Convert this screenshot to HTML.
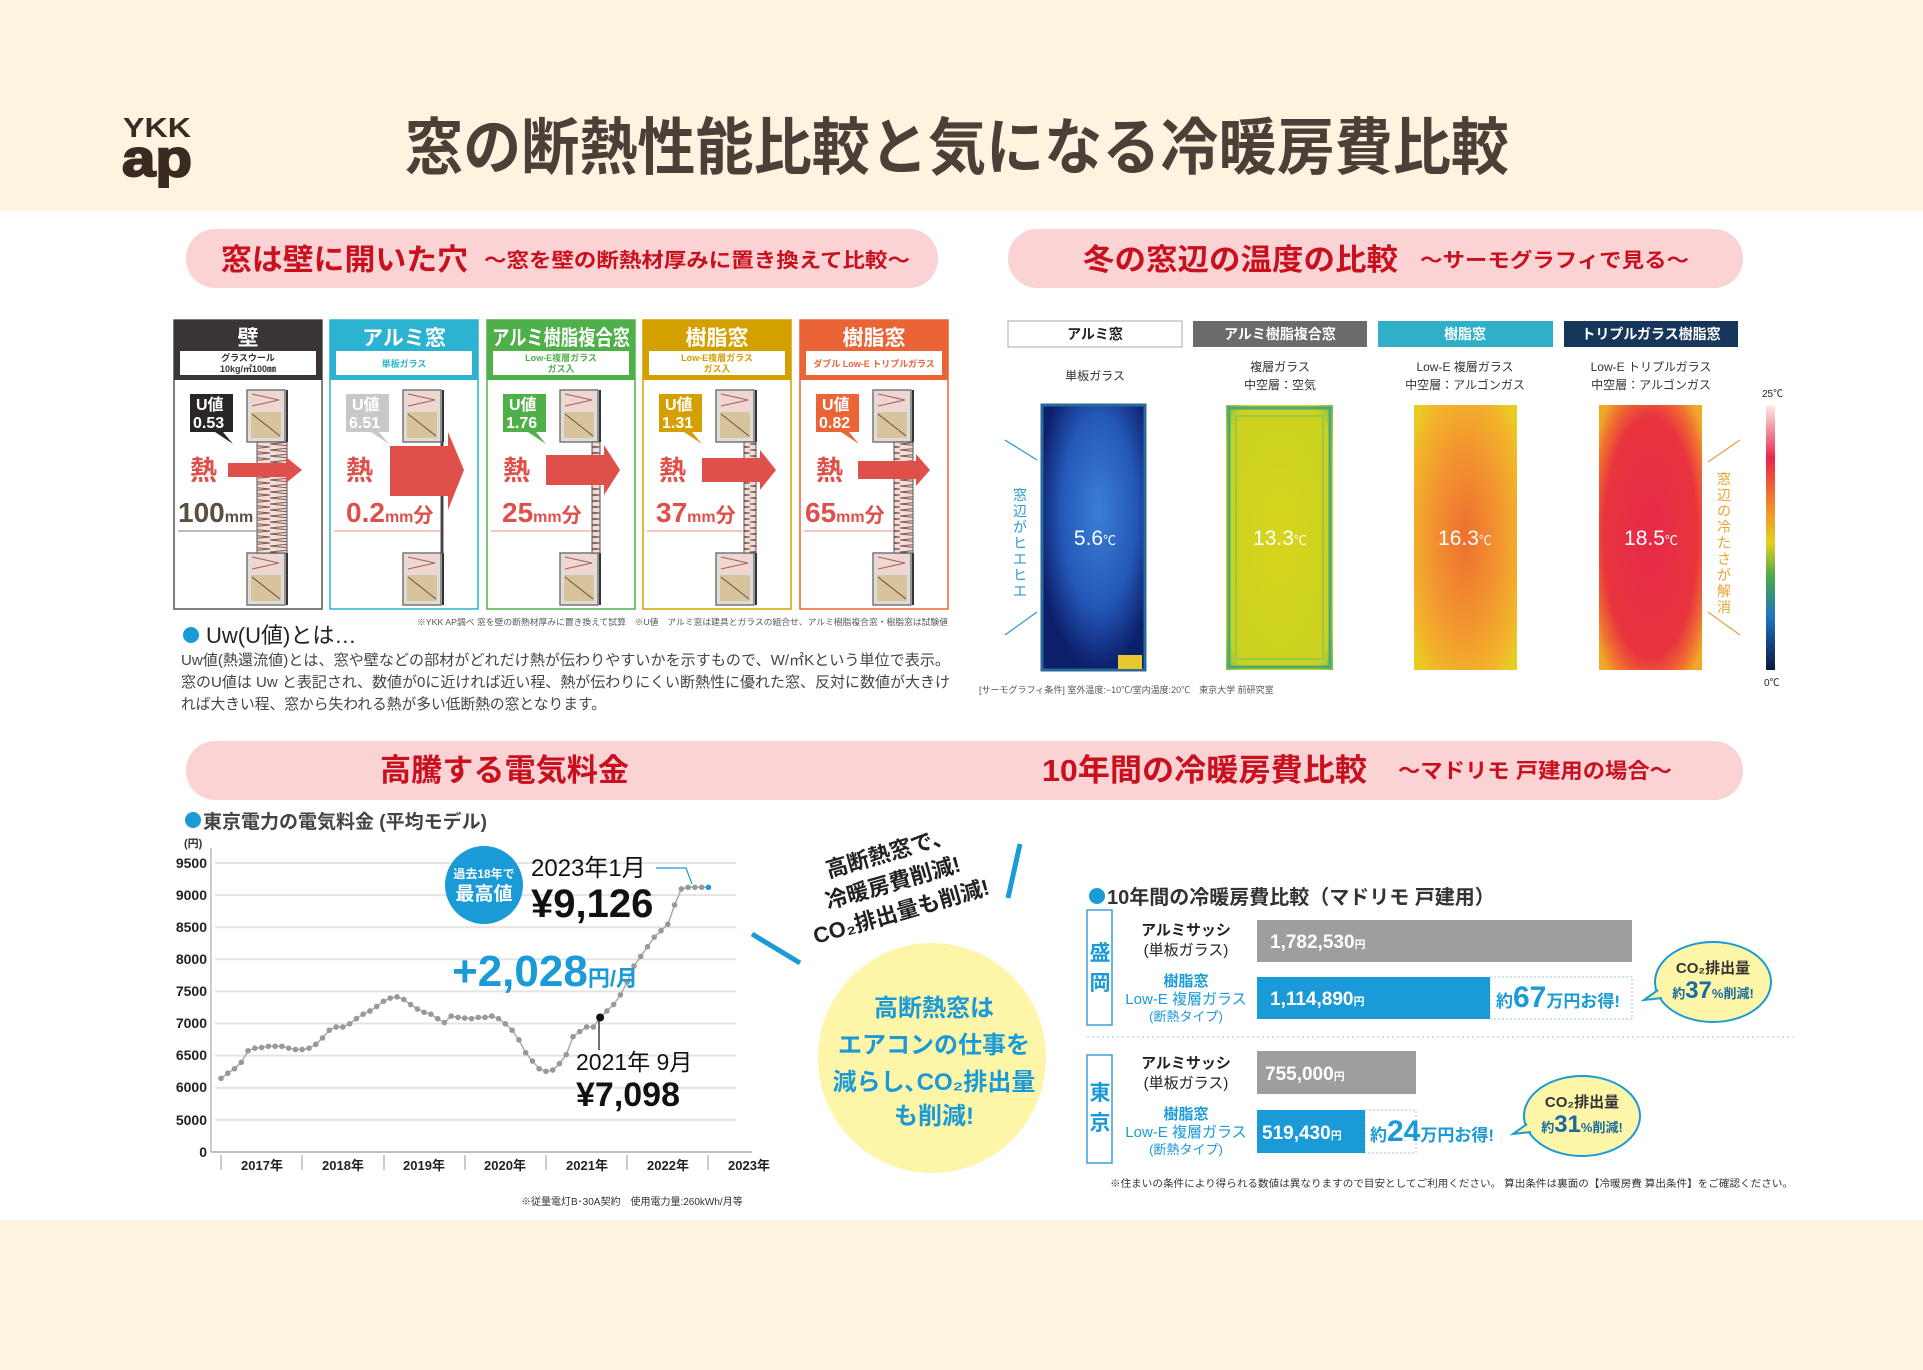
<!DOCTYPE html>
<html><head><meta charset="utf-8"><style>
html,body{margin:0;padding:0;background:#fff}
svg{display:block}
text{font-family:"Liberation Sans","Noto Sans CJK JP",sans-serif}
.b{font-weight:bold}
</style></head><body>
<svg id="s" width="1923" height="1370" viewBox="0 0 1923 1370" xmlns="http://www.w3.org/2000/svg">
<defs>
<radialGradient id="g1" cx="0.55" cy="0.4" r="0.6"><stop offset="0" stop-color="#3a7fd8"/><stop offset="0.6" stop-color="#2458b8"/><stop offset="1" stop-color="#0c1f6a"/></radialGradient>
<radialGradient id="g2" cx="0.5" cy="0.5" r="0.7"><stop offset="0" stop-color="#d6d41c"/><stop offset="0.85" stop-color="#cad220"/><stop offset="1" stop-color="#7cc050"/></radialGradient>
<radialGradient id="g3" cx="0.5" cy="0.5" r="0.65"><stop offset="0" stop-color="#ee7030"/><stop offset="0.5" stop-color="#f29430"/><stop offset="0.85" stop-color="#f2b42a"/><stop offset="1" stop-color="#e8cc24"/></radialGradient>
<radialGradient id="g4" cx="0.5" cy="0.5" r="0.65"><stop offset="0" stop-color="#e62a48"/><stop offset="0.7" stop-color="#e8343e"/><stop offset="0.88" stop-color="#f07030"/><stop offset="1" stop-color="#f0a828"/></radialGradient>
<linearGradient id="cb" x1="0" y1="0" x2="0" y2="1"><stop offset="0" stop-color="#fbeee8"/><stop offset="0.2" stop-color="#e8254a"/><stop offset="0.38" stop-color="#f08a2a"/><stop offset="0.52" stop-color="#e4d020"/><stop offset="0.65" stop-color="#4aa848"/><stop offset="0.8" stop-color="#1e74c0"/><stop offset="1" stop-color="#0c1840"/></linearGradient>
<pattern id="zz" width="30" height="6" patternUnits="userSpaceOnUse"><rect width="30" height="6" fill="#f3dcd6"/><path d="M0 0L30 3L0 6" stroke="#7a5a55" stroke-width="1" fill="none"/></pattern>
<g id="blk"><rect x="0" y="0" width="38" height="52" fill="#e0ddd8" stroke="#777" stroke-width="1.5"/><rect x="4" y="2" width="30" height="18" fill="#f4d4d0"/><path d="M5 4L32 10L5 16" stroke="#8a6a60" fill="none"/><rect x="4" y="22" width="30" height="26" fill="#d8c49c"/><path d="M5 24L33 46" stroke="#6a5040"/><line x1="40" y1="0" x2="40" y2="52" stroke="#333" stroke-width="2"/></g>
</defs>
<rect width="1923" height="211" fill="#fdf3df"/>
<rect y="1220" width="1923" height="150" fill="#fdf3df"/>
<text x="123" y="137" font-size="28" class="b" fill="#3a2a22" textLength="68" lengthAdjust="spacingAndGlyphs">YKK</text>
<text x="122" y="176" font-size="52" class="b" fill="#3a2a22" stroke="#3a2a22" stroke-width="2" textLength="70" lengthAdjust="spacingAndGlyphs">ap</text>
<text x="405" y="169" font-size="62" class="b" fill="#4a4038" textLength="1104" lengthAdjust="spacingAndGlyphs">窓の断熱性能比較と気になる冷暖房費比較</text>
<rect x="186" y="229" width="752" height="59" rx="29" fill="#fcd3d4"/>
<rect x="1008" y="229" width="735" height="59" rx="29" fill="#fcd3d4"/>
<rect x="186" y="741" width="1557" height="59" rx="29" fill="#fcd3d4"/>
<text x="221" y="270" font-size="30" class="b" fill="#c8101e" textLength="247" lengthAdjust="spacingAndGlyphs">窓は壁に開いた穴</text>
<text x="484" y="267" font-size="20" class="b" fill="#c8101e" textLength="426" lengthAdjust="spacingAndGlyphs">～窓を壁の断熱材厚みに置き換えて比較～</text>
<text x="1083" y="270" font-size="30" class="b" fill="#c8101e" textLength="315" lengthAdjust="spacingAndGlyphs">冬の窓辺の温度の比較</text>
<text x="1420" y="267" font-size="20" class="b" fill="#c8101e" textLength="269" lengthAdjust="spacingAndGlyphs">～サーモグラフィで見る～</text>
<text x="380" y="781" font-size="31" class="b" fill="#c8101e" textLength="249" lengthAdjust="spacingAndGlyphs">高騰する電気料金</text>
<text x="1042" y="781" font-size="31" class="b" fill="#c8101e" textLength="325" lengthAdjust="spacingAndGlyphs">10年間の冷暖房費比較</text>
<text x="1398" y="778" font-size="21" class="b" fill="#c8101e" textLength="274" lengthAdjust="spacingAndGlyphs">～マドリモ 戸建用の場合～</text>

<rect x="174" y="320" width="148" height="289" fill="#fff" stroke="#555" stroke-width="1.5"/>
<rect x="330" y="320" width="148" height="289" fill="#fff" stroke="#2bb3d1" stroke-width="1.5"/>
<rect x="487" y="320" width="148" height="289" fill="#fff" stroke="#4fb04a" stroke-width="1.5"/>
<rect x="643" y="320" width="148" height="289" fill="#fff" stroke="#d4a000" stroke-width="1.5"/>
<rect x="800" y="320" width="148" height="289" fill="#fff" stroke="#eb6436" stroke-width="1.5"/>
<rect x="174" y="320" width="148" height="60" fill="#3a3535"/>
<rect x="330" y="320" width="148" height="60" fill="#2bb3d1"/>
<rect x="487" y="320" width="148" height="60" fill="#4fb04a"/>
<rect x="643" y="320" width="148" height="60" fill="#d4a000"/>
<rect x="800" y="320" width="148" height="60" fill="#eb6436"/>
<g fill="#fff"><rect x="180" y="351" width="136" height="24"/><rect x="336" y="351" width="136" height="24"/><rect x="493" y="351" width="136" height="24"/><rect x="649" y="351" width="136" height="24"/><rect x="806" y="351" width="136" height="24"/></g>
<g font-size="21" class="b" fill="#fff" text-anchor="middle">
<text x="248" y="345">壁</text><text x="404" y="345">アルミ窓</text><text x="561" y="345" textLength="138" lengthAdjust="spacingAndGlyphs">アルミ樹脂複合窓</text><text x="717" y="345">樹脂窓</text><text x="874" y="345">樹脂窓</text></g>
<g font-size="9" class="b" text-anchor="middle">
<text x="248" y="361" fill="#333">グラスウール</text><text x="248" y="372" fill="#333">10kg/㎥100㎜</text>
<text x="404" y="367" fill="#2bb3d1">単板ガラス</text>
<text x="561" y="361" fill="#4fb04a">Low-E複層ガラス</text><text x="561" y="372" fill="#4fb04a">ガス入</text>
<text x="717" y="361" fill="#d4a000">Low-E複層ガラス</text><text x="717" y="372" fill="#d4a000">ガス入</text>
<text x="874" y="367" fill="#eb6436">ダブル Low-E トリプルガラス</text></g>
<g id="walls"></g>
<g font-size="16" class="b" fill="#fff">
<path d="M190 394h43v38h-10l10 12-18-12h-25z" fill="#2a2626"/><text x="196" y="410">U値</text><text x="193" y="428">0.53</text>
<path d="M346 394h43v38h-10l10 12-18-12h-25z" fill="#c8c8c8"/><text x="352" y="410">U値</text><text x="349" y="428">6.51</text>
<path d="M503 394h43v38h-10l10 12-18-12h-25z" fill="#4fb04a"/><text x="509" y="410">U値</text><text x="506" y="428">1.76</text>
<path d="M659 394h43v38h-10l10 12-18-12h-25z" fill="#d4a000"/><text x="665" y="410">U値</text><text x="662" y="428">1.31</text>
<path d="M816 394h43v38h-10l10 12-18-12h-25z" fill="#eb6436"/><text x="822" y="410">U値</text><text x="819" y="428">0.82</text></g>
<g fill="#e0504a">
<path d="M228 463h58v-6l16 13-16 13v-6h-58z"/>
<path d="M390 446h58v-14l16 38-16 40v-14h-58z"/>
<path d="M546 455h58v-10l16 25-16 25v-10h-58z"/>
<path d="M702 458h58v-8l16 20-16 20v-8h-58z"/>
<path d="M858 461h58v-7l14 16-14 16v-7h-58z"/></g>
<g font-size="27" class="b" fill="#e0504a">
<text x="190" y="480">熱</text><text x="346" y="480">熱</text><text x="503" y="480">熱</text><text x="659" y="480">熱</text><text x="816" y="480">熱</text></g>
<g class="b">
<text x="178" y="522" font-size="28" fill="#5a5040">100<tspan font-size="16">mm</tspan></text>
<text x="346" y="522" font-size="28" fill="#e0504a">0.2<tspan font-size="16">mm</tspan><tspan font-size="20">分</tspan></text>
<text x="502" y="522" font-size="28" fill="#e0504a">25<tspan font-size="16">mm</tspan><tspan font-size="20">分</tspan></text>
<text x="656" y="522" font-size="28" fill="#e0504a">37<tspan font-size="16">mm</tspan><tspan font-size="20">分</tspan></text>
<text x="805" y="522" font-size="28" fill="#e0504a">65<tspan font-size="16">mm</tspan><tspan font-size="20">分</tspan></text></g>
<text x="417" y="625" font-size="8.5" fill="#555" textLength="531" lengthAdjust="spacingAndGlyphs">※YKK AP調べ 窓を壁の断熱材厚みに置き換えて試算　※U値　アルミ窓は建具とガラスの組合せ、アルミ樹脂複合窓・樹脂窓は試験値</text>
<circle cx="191" cy="635" r="8" fill="#1a9ad6"/>
<text x="206" y="643" font-size="22" fill="#222">Uw(U値)とは…</text>
<g font-size="15" fill="#444">
<text x="181" y="665" textLength="769" lengthAdjust="spacingAndGlyphs">Uw値(熱還流値)とは、窓や壁などの部材がどれだけ熱が伝わりやすいかを示すもので、W/㎡Kという単位で表示。</text>
<text x="181" y="687" textLength="769" lengthAdjust="spacingAndGlyphs">窓のU値は Uw と表記され、数値が0に近ければ近い程、熱が伝わりにくい断熱性に優れた窓、反対に数値が大きけ</text>
<text x="181" y="709" textLength="425" lengthAdjust="spacingAndGlyphs">れば大きい程、窓から失われる熱が多い低断熱の窓となります。</text></g>

<rect x="1008" y="321" width="174" height="26" fill="#fff" stroke="#aaa"/>
<rect x="1193" y="321" width="174" height="26" fill="#6b6b6b"/>
<rect x="1378" y="321" width="175" height="26" fill="#2fb0c8"/>
<rect x="1564" y="321" width="174" height="26" fill="#16375a"/>
<g font-size="14" text-anchor="middle" class="b">
<text x="1095" y="339" fill="#222">アルミ窓</text><text x="1280" y="339" fill="#fff">アルミ樹脂複合窓</text><text x="1465" y="339" fill="#fff">樹脂窓</text><text x="1651" y="339" fill="#fff">トリプルガラス樹脂窓</text></g>
<g font-size="12" text-anchor="middle" fill="#333">
<text x="1095" y="380">単板ガラス</text><text x="1280" y="371">複層ガラス</text><text x="1280" y="389">中空層：空気</text>
<text x="1465" y="371">Low-E 複層ガラス</text><text x="1465" y="389">中空層：アルゴンガス</text>
<text x="1651" y="371">Low-E トリプルガラス</text><text x="1651" y="389">中空層：アルゴンガス</text></g>
<rect x="1042" y="405" width="103" height="265" fill="url(#g1)"/>
<rect x="1042" y="405" width="103" height="265" fill="none" stroke="#2a6a9a" stroke-width="3"/>
<rect x="1118" y="655" width="24" height="14" fill="#e8c830"/>
<rect x="1226" y="405" width="107" height="265" fill="url(#g2)"/>
<rect x="1229" y="408" width="101" height="259" fill="none" stroke="#4aa878" stroke-width="3"/>
<rect x="1236" y="416" width="87" height="243" fill="none" stroke="#9cc848" stroke-width="2"/>
<rect x="1414" y="405" width="103" height="265" fill="url(#g3)"/>
<rect x="1599" y="405" width="103" height="265" fill="url(#g4)"/>
<g font-size="21" fill="#fff" text-anchor="middle">
<text x="1095" y="545">5.6<tspan font-size="13">℃</tspan></text><text x="1280" y="545">13.3<tspan font-size="13">℃</tspan></text><text x="1465" y="545">16.3<tspan font-size="13">℃</tspan></text><text x="1651" y="545">18.5<tspan font-size="13">℃</tspan></text></g>
<g stroke="#2a9ad0" stroke-width="1.2"><line x1="1005" y1="440" x2="1037" y2="460"/><line x1="1005" y1="635" x2="1037" y2="612"/></g>
<g stroke="#e8a040" stroke-width="1.2"><line x1="1740" y1="440" x2="1708" y2="462"/><line x1="1740" y1="635" x2="1708" y2="612"/></g>
<g font-size="14" fill="#2a9ad0" text-anchor="middle"><text x="1020" y="500">窓</text><text x="1020" y="516">辺</text><text x="1020" y="532">が</text><text x="1020" y="548">ヒ</text><text x="1020" y="564">エ</text><text x="1020" y="580">ヒ</text><text x="1020" y="596">エ</text></g>
<g font-size="14" fill="#eca030" text-anchor="middle"><text x="1724" y="484">窓</text><text x="1724" y="500">辺</text><text x="1724" y="516">の</text><text x="1724" y="532">冷</text><text x="1724" y="548">た</text><text x="1724" y="564">さ</text><text x="1724" y="580">が</text><text x="1724" y="596">解</text><text x="1724" y="612">消</text></g>
<rect x="1766" y="405" width="9" height="265" fill="url(#cb)"/>
<text x="1762" y="397" font-size="10" fill="#222">25℃</text>
<text x="1764" y="686" font-size="10" fill="#222">0℃</text>
<text x="979" y="693" font-size="9" fill="#555">[サーモグラフィ条件] 室外温度:−10℃/室内温度:20℃　東京大学 前研究室</text>

<circle cx="193" cy="820" r="8" fill="#1a9ad6"/>
<text x="203" y="828" font-size="19" class="b" fill="#444">東京電力の電気料金 (平均モデル)</text>
<text x="184" y="847" font-size="11" class="b" fill="#333">(円)</text>
<g id="grid" stroke="#e4e4e4" stroke-width="2"></g>
<line x1="211" y1="848" x2="211" y2="1152" stroke="#bbb" stroke-width="1.5"/>
<line x1="211" y1="1152" x2="752" y2="1152" stroke="#aaa" stroke-width="1.5"/>
<g font-size="14" fill="#222" text-anchor="end" class="b">
<text x="207" y="868">9500</text><text x="207" y="900">9000</text><text x="207" y="932">8500</text><text x="207" y="964">8000</text><text x="207" y="996">7500</text><text x="207" y="1028">7000</text><text x="207" y="1060">6500</text><text x="207" y="1092">6000</text><text x="207" y="1125">5000</text><text x="207" y="1157">0</text></g>
<g stroke="#999" stroke-width="1"><line x1="221" y1="1155" x2="221" y2="1170"/><line x1="302" y1="1155" x2="302" y2="1170"/><line x1="384" y1="1155" x2="384" y2="1170"/><line x1="465" y1="1155" x2="465" y2="1170"/><line x1="546" y1="1155" x2="546" y2="1170"/><line x1="627" y1="1155" x2="627" y2="1170"/><line x1="708" y1="1155" x2="708" y2="1170"/></g>
<g font-size="13" fill="#222" text-anchor="middle" class="b"><text x="262" y="1170">2017年</text><text x="343" y="1170">2018年</text><text x="424" y="1170">2019年</text><text x="505" y="1170">2020年</text><text x="587" y="1170">2021年</text><text x="668" y="1170">2022年</text><text x="749" y="1170">2023年</text></g>
<g id="data"></g>
<circle cx="484" cy="885" r="39" fill="#1a9ad6"/>
<text x="484" y="878" font-size="12" class="b" fill="#fff" text-anchor="middle">過去18年で</text>
<text x="484" y="900" font-size="19" class="b" fill="#fff" text-anchor="middle">最高値</text>
<text x="531" y="876" font-size="24" fill="#111">2023年1月</text>
<text x="531" y="917" font-size="40" class="b" fill="#111">¥9,126</text>
<path d="M656 868h30l6 16" stroke="#1a9ad6" fill="none" stroke-width="1.2"/>
<text x="452" y="986" font-size="44" class="b" fill="#1a9ad6">+2,028<tspan font-size="22">円/月</tspan></text>
<line x1="599" y1="1020" x2="599" y2="1050" stroke="#111" stroke-width="1.2"/>
<text x="576" y="1070" font-size="23" fill="#111">2021年 9月</text>
<text x="576" y="1106" font-size="34" class="b" fill="#111">¥7,098</text>
<text x="521" y="1205" font-size="10" fill="#333">※従量電灯B･30A契約　使用電力量:260kWh/月等</text>

<g transform="rotate(-16 895 890)" font-size="22" class="b" fill="#222" text-anchor="middle">
<text x="900" y="860">高断熱窓で、</text><text x="895" y="890">冷暖房費削減!</text><text x="895" y="920">CO₂排出量も削減!</text></g>
<line x1="752" y1="934" x2="800" y2="963" stroke="#1a9ad6" stroke-width="5"/>
<line x1="1020" y1="844" x2="1008" y2="898" stroke="#1a9ad6" stroke-width="5"/>
<ellipse cx="932" cy="1058" rx="114" ry="115" fill="#fdf5a8"/>
<g font-size="24" class="b" fill="#1a9ad6" text-anchor="middle">
<text x="934" y="1016">高断熱窓は</text><text x="934" y="1053">エアコンの仕事を</text><text x="934" y="1090">減らし､CO₂排出量</text><text x="934" y="1124">も削減!</text></g>

<circle cx="1097" cy="896" r="8" fill="#1a9ad6"/>
<text x="1107" y="904" font-size="20" class="b" fill="#333">10年間の冷暖房費比較（マドリモ 戸建用）</text>
<rect x="1087" y="910" width="25" height="115" fill="#fff" stroke="#3aa0d8" stroke-width="1.5"/>
<rect x="1087" y="1055" width="25" height="108" fill="#fff" stroke="#3aa0d8" stroke-width="1.5"/>
<g font-size="21" class="b" fill="#1a9ad6" text-anchor="middle"><text x="1100" y="960">盛</text><text x="1100" y="990">岡</text><text x="1100" y="1100">東</text><text x="1100" y="1130">京</text></g>
<rect x="1257" y="920" width="375" height="42" fill="#9e9e9e"/>
<rect x="1490" y="977" width="142" height="42" fill="#fff" stroke="#9cc" stroke-dasharray="2 2"/>
<rect x="1257" y="977" width="233" height="42" fill="#1a9ad6"/>
<rect x="1257" y="1051" width="159" height="43" fill="#9e9e9e"/>
<rect x="1365" y="1110" width="51" height="43" fill="#fff" stroke="#9cc" stroke-dasharray="2 2"/>
<rect x="1257" y="1110" width="108" height="43" fill="#1a9ad6"/>
<line x1="1087" y1="1037" x2="1793" y2="1037" stroke="#9cc" stroke-dasharray="2 3"/>
<g font-size="19" class="b" fill="#fff"><text x="1270" y="948">1,782,530<tspan font-size="11">円</tspan></text><text x="1270" y="1005">1,114,890<tspan font-size="11">円</tspan></text><text x="1265" y="1080">755,000<tspan font-size="11">円</tspan></text><text x="1262" y="1139">519,430<tspan font-size="11">円</tspan></text></g>
<g class="b" fill="#1a9ad6"><text x="1496" y="1007" font-size="17">約<tspan font-size="30">67</tspan>万円お得!</text><text x="1370" y="1141" font-size="17">約<tspan font-size="30">24</tspan>万円お得!</text></g>
<g font-size="15" text-anchor="middle">
<text x="1186" y="935" class="b" fill="#222">アルミサッシ</text><text x="1186" y="955" fill="#222">(単板ガラス)</text>
<text x="1186" y="986" class="b" fill="#1a9ad6">樹脂窓</text><text x="1186" y="1004" fill="#1a9ad6">Low-E 複層ガラス</text><text x="1186" y="1021" font-size="13" fill="#1a9ad6">(断熱タイプ)</text>
<text x="1186" y="1068" class="b" fill="#222">アルミサッシ</text><text x="1186" y="1088" fill="#222">(単板ガラス)</text>
<text x="1186" y="1119" class="b" fill="#1a9ad6">樹脂窓</text><text x="1186" y="1137" fill="#1a9ad6">Low-E 複層ガラス</text><text x="1186" y="1154" font-size="13" fill="#1a9ad6">(断熱タイプ)</text></g>
<g fill="#fdf5a8" stroke="#1a9ad6" stroke-width="2">
<ellipse cx="1713" cy="982" rx="58" ry="40"/><ellipse cx="1582" cy="1116" rx="58" ry="40"/>
<path d="M1658 990l-14 10 18-2" /><path d="M1527 1124l-14 10 18-2"/></g>
<g class="b" fill="#1a6aa0" text-anchor="middle">
<text x="1713" y="973" font-size="15" fill="#333">CO₂排出量</text><text x="1713" y="998" font-size="13">約<tspan font-size="24">37</tspan>%削減!</text>
<text x="1582" y="1107" font-size="15" fill="#333">CO₂排出量</text><text x="1582" y="1132" font-size="13">約<tspan font-size="24">31</tspan>%削減!</text></g>
<text x="1110" y="1187" font-size="10" fill="#333" textLength="683" lengthAdjust="spacingAndGlyphs">※住まいの条件により得られる数値は異なりますので目安としてご利用ください。 算出条件は裏面の【冷暖房費 算出条件】をご確認ください。</text>
</svg>
<script>
var NS="http://www.w3.org/2000/svg";
function el(t,a,p){var e=document.createElementNS(NS,t);for(var k in a)e.setAttribute(k,a[k]);(p||document.getElementById('s')).appendChild(e);return e;}
var g=document.getElementById('grid');
for(var i=0;i<9;i++){var y=863+i*32.1;el('line',{x1:215,y1:y,x2:736,y2:y},g);}
var w=document.getElementById('walls');
var px=[174,330,487,643,800],sw=[30,2,8,12,19];
px.forEach(function(x,i){
 var wx=x+73;
 el('use',{href:'#blk',x:wx,y:390},w);
 el('use',{href:'#blk',x:wx,y:553},w);
 if(i==0){el('rect',{x:wx+10,y:442,width:30,height:111,fill:'url(#zz)',stroke:'#555'},w);}
 else{el('rect',{x:wx+40-sw[i],y:442,width:sw[i],height:111,fill:i==1?'#333':'url(#zz)',stroke:'#555'},w);}
 el('line',{x1:x+4,y1:531,x2:wx+40-sw[i],y2:531,stroke:i==0?'#777':'#e88',"stroke-width":1},w);
});
var v=[6150,6230,6300,6400,6580,6620,6630,6650,6650,6650,6620,6600,
6600,6620,6680,6780,6900,6950,6950,7000,7080,7150,7200,7270,
7350,7400,7420,7380,7300,7230,7180,7150,7080,7020,7120,7100,
7090,7080,7100,7100,7120,7080,7000,6900,6750,6550,6420,6300,
6260,6280,6380,6520,6800,6880,6950,6950,7098,7200,7300,7450,
7650,7900,8050,8200,8350,8450,8550,8850,9100,9126,9126,9126,9126];
var d=document.getElementById('data'),pts=[];
v.forEach(function(val,i){pts.push([221+i*6.77,1088-(val-6000)/500*32.1]);});
el('polyline',{points:pts.map(function(p){return p.join(',')}).join(' '),fill:'none',stroke:'#aaa','stroke-width':1.5},d);
pts.forEach(function(p,i){el('circle',{cx:p[0],cy:p[1],r:i==56?4:2.8,fill:i==56?'#111':(i==72?'#1a9ad6':'#999')},d);});
</script>
</body></html>
